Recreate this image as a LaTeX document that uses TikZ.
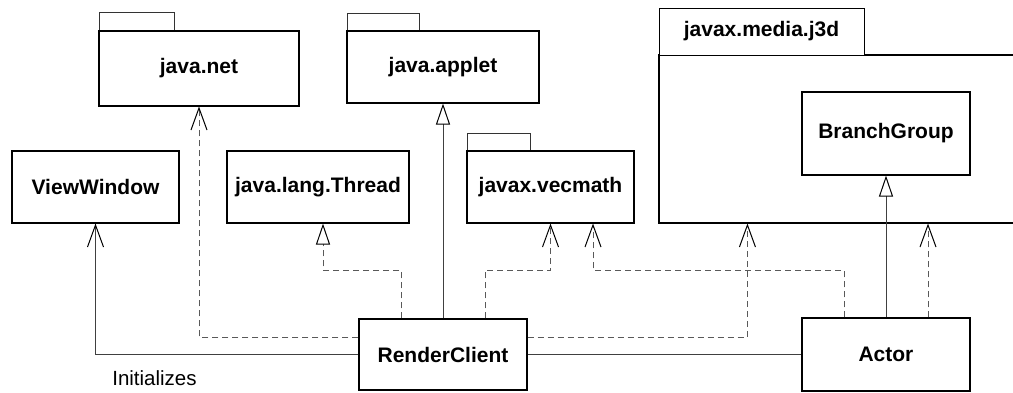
\documentclass[tikz,border=0pt]{standalone}
\usepackage{fontspec}
\setmainfont{Liberation Sans}
\usetikzlibrary{arrows.meta,positioning}
\begin{document}
\begin{tikzpicture}[x=1pt,y=-1pt,
  box/.style={draw=black,line width=1.1pt,fill=white,inner sep=0pt,
    font=\fontsize{21}{25}\selectfont\bfseries},
  tabbox/.style={draw=black!80,line width=1pt,fill=white,inner sep=0pt},
  assoc/.style={draw=black!75,line width=1pt},
  dep/.style={draw=black!65,line width=1pt,dash pattern=on 6pt off 4pt},
  vee/.style={-{Straight Barb[length=22pt,width=16pt,line width=1pt,color=black]}},
  gen/.style={-{Triangle[open,length=21pt,width=14pt,line width=1pt,color=black,fill=white]}},
  lbl/.style={font=\fontsize{20.5}{24}\selectfont,inner sep=0pt}
]
\clip (0,0) rectangle (1013,392);
\fill[white] (0,0) rectangle (1013,392);

% package java.net
\draw[tabbox] (99,12) rectangle (174,31);
\node[box,minimum width=200pt,minimum height=75pt] (net) at (199,68.5) {java.net};

% package java.applet
\draw[tabbox] (347,13) rectangle (419,31);
\node[box,minimum width=192pt,minimum height=72pt] (applet) at (443,67) {java.applet};

% package javax.media.j3d (body runs past the right edge)
\node[box,minimum width=361pt,minimum height=168pt] (j3dbody) at (839.5,139) {};
\node[box,line width=1pt,minimum width=205pt,minimum height=47pt] (j3dtab) at (761.5,31.5) {javax.media.j3d};
\node[box,minimum width=168pt,minimum height=83pt] (branch) at (886,133.5) {BranchGroup};

% package javax.vecmath
\draw[tabbox] (467,133) rectangle (530,151);
\node[box,minimum width=167pt,minimum height=72pt] (vecmath) at (550.5,187) {javax.vecmath};

% classes
\node[box,minimum width=167pt,minimum height=72pt] (view) at (95.5,187) {ViewWindow};
\node[box,minimum width=182pt,minimum height=72pt] (thread) at (318,187) {java.lang.Thread};
\node[box,minimum width=168pt,minimum height=71pt] (rc) at (443,354.5) {RenderClient};
\node[box,minimum width=168pt,minimum height=73pt] (actor) at (886,354.5) {Actor};

% RenderClient relations
\draw[assoc,vee] (rc.west) -| (view.south);
\node[lbl] (init) at (154.5,378) {Initializes};
\draw[dep,vee] ([yshift=17.5pt]rc.west) -| (net.south);
\draw[dep,gen] ([xshift=-42pt]rc.north) -- ++(0,-48) -| ([xshift=5pt]thread.south);
\draw[assoc,gen] (rc.north) -- (applet.south);
\draw[dep,vee] ([xshift=42pt]rc.north) -- ++(0,-48) -| (vecmath.south);
\draw[dep,vee] ([yshift=17.5pt]rc.east) -| ([xshift=89pt]j3dbody.south west);
\draw[assoc] (rc.east) -- (actor.west);

% Actor relations
\draw[dep,vee] ([xshift=-42pt]actor.north) -- ++(0,-47) -| ([xshift=42.5pt]vecmath.south);
\draw[assoc,gen] (actor.north) -- (branch.south);
\draw[dep,vee] ([xshift=42pt]actor.north) -- ([xshift=42pt]actor.north |- j3dbody.south);
\end{tikzpicture}
\end{document}
